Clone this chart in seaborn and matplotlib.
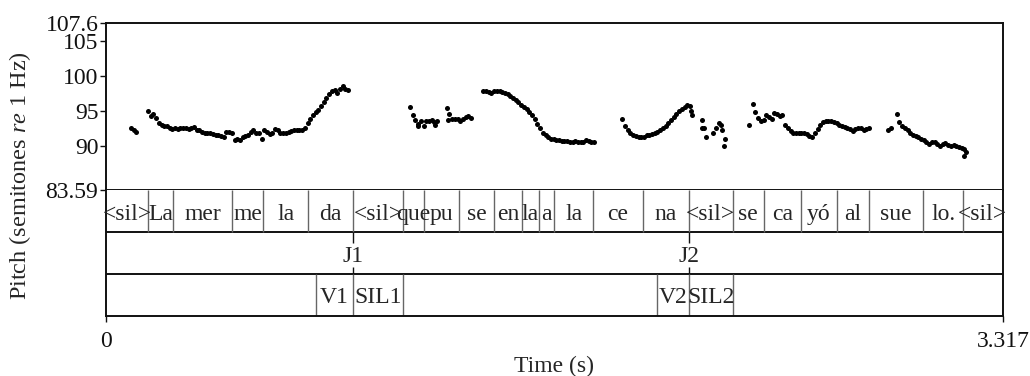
import numpy as np
import pandas as pd
import matplotlib
matplotlib.use("Agg")
import matplotlib.pyplot as plt
import seaborn as sns

# ---- pitch track: voiced stretches, frames every 10 ms (semitones re 1 Hz) ----
hop = 0.01

seg_a_start = 0.092
seg_a = [92.5, 92.3, 92.0]

seg_b_start = 0.1553
seg_b = [95.0, 94.3, 94.5, 94.0, 93.3, 93.0, 92.8, 92.8, 92.6, 92.4,
         92.5, 92.4, 92.6, 92.6, 92.5, 92.4, 92.5, 92.7, 92.3, 92.2,
         92.0, 91.9, 91.8, 91.8, 91.7, 91.6, 91.5, 91.4, 91.3, 92.0,
         92.0, 91.9, 90.8, 90.9, 90.8, 91.2, 91.4, 91.6, 92.0, 92.3,
         91.9, 91.8, 91.0, 92.2, 92.0, 91.7, 91.8, 92.4, 92.2, 91.8,
         91.8, 91.9, 92.0, 92.1, 92.2, 92.2, 92.2, 92.3, 92.6, 93.2,
         93.8, 94.4, 94.8, 95.2, 95.7, 96.3, 96.8, 97.4, 97.8, 98.0,
         97.5, 98.2, 98.6, 98.2, 98.0]

seg_c1_start = 1.1242
seg_c1 = [95.6, 94.4, 93.7, 93.1, 93.6, 92.8, 93.5, 93.6, 93.7, 93.4, 93.6]

seg_c2_start = 1.2599
seg_c2 = [95.4, 94.6, 93.9, 93.8, 93.9, 93.6, 93.9, 94.1, 94.2, 94.0]

seg_d_start = 1.3953
seg_d = [97.9, 97.8, 97.7, 97.6, 97.8, 97.9, 97.8, 97.7, 97.6, 97.4,
         97.1, 96.9, 96.6, 96.3, 95.9, 95.6, 95.3, 94.8, 94.4, 93.8,
         93.1, 92.5, 91.9, 91.5, 91.2, 91.0, 90.9, 90.8, 90.8, 90.7,
         90.7, 90.7, 90.6, 90.6, 90.7, 90.5, 90.5, 90.6, 90.8, 90.7,
         90.6, 90.5]

seg_e_start = 1.9093
seg_e = [93.9, 92.9, 92.3, 91.9, 91.6, 91.4, 91.3, 91.2, 91.2, 91.5,
         91.5, 91.7, 91.8, 92.0, 92.3, 92.6, 92.9, 93.3, 93.7, 94.1,
         94.5, 95.0, 95.3, 95.6, 95.9, 95.7]

seg_g_start = 2.3914
seg_g = [96.0, 94.9, 94.0, 93.5, 93.7, 94.4, 94.1, 93.9, 94.7, 94.5,
         94.2, 94.4, 93.0, 92.5, 92.1, 91.9, 91.8, 91.9, 91.9, 91.8,
         91.7, 91.4, 91.3, 91.9, 92.4, 93.0, 93.4, 93.6, 93.6, 93.5,
         93.4, 93.2, 93.0, 92.8, 92.7, 92.5, 92.4, 92.1, 92.4, 92.6,
         92.6, 92.2, 92.4, 92.6]

seg_h_start = 2.924
seg_h = [94.6, 93.4, 92.8, 92.5, 92.2, 91.8, 91.5, 91.4, 91.2, 91.0,
         90.8, 90.5, 90.3, 90.5, 90.6, 90.3, 90.0, 90.2, 90.4, 90.1,
         89.9, 90.1, 90.0, 89.8, 89.7, 89.6]

# isolated / scattered frames
stray_t = [1.1549, 1.2167, 1.2651, 2.1633, 2.1680, 2.2021, 2.2040, 2.2125,
           2.2177, 2.2458, 2.2558, 2.2650, 2.2724, 2.2780, 2.2846, 2.2890,
           2.3789, 2.8929, 2.9018, 3.1710, 3.1784]
stray_f0 = [92.8, 93.0, 93.7, 95.0, 94.4, 92.6, 93.7, 92.6,
            91.3, 91.8, 92.5, 93.2, 93.0, 92.3, 90.0, 90.9,
            93.0, 92.2, 92.5, 88.5, 89.1]

# ---- annotation tiers ----
syllables = ["<sil>", "La", "mer", "me", "la", "da", "<sil>", "que", "pu", "se",
             "en", "la", "a", "la", "ce", "na", "<sil>", "se", "ca", "yó",
             "al", "sue", "lo.", "<sil>"]
syll_bounds = [0, 0.1564, 0.2489, 0.4671, 0.5817, 0.7481, 0.9145, 1.0994,
               1.1760, 1.3065, 1.4340, 1.5373, 1.5994, 1.6578, 1.8002, 1.9847,
               2.1544, 2.3172, 2.4333, 2.5709, 2.7021, 2.8223, 3.0224, 3.1681,
               3.317]

junct_labels = ["J1", "J2"]
junct_times = [0.9145, 2.1544]

phase_labels = ["", "V1", "SIL1", "", "V2", "SIL2", ""]
phase_bounds = [0, 0.7766, 0.9145, 1.0994, 2.0387, 2.1544, 2.3172, 3.317]

t_end = 3.317
f0_min, f0_max = 83.59, 107.6
f0_ticks = [83.59, 90, 95, 100, 105, 107.6]
f0_ticklabels = ["83.59", "90", "95", "100", "105", "107.6"]

# ---- assemble frames ----
parts = []
for start, vals in [(seg_a_start, seg_a), (seg_b_start, seg_b),
                    (seg_c1_start, seg_c1), (seg_c2_start, seg_c2),
                    (seg_d_start, seg_d), (seg_e_start, seg_e),
                    (seg_g_start, seg_g), (seg_h_start, seg_h)]:
    parts.append(pd.DataFrame({"time": start + hop * np.arange(len(vals)),
                               "f0": vals}))
parts.append(pd.DataFrame({"time": stray_t, "f0": stray_f0}))
pitch = pd.concat(parts, ignore_index=True)

# ---- style ----
sns.set_style("white")
plt.rcParams["font.family"] = ["Liberation Serif", "DejaVu Serif"]
plt.rcParams["mathtext.fontset"] = "custom"
plt.rcParams["mathtext.rm"] = "Liberation Serif"
plt.rcParams["mathtext.it"] = "Liberation Serif:italic"
FS = 17
frame_c = "#111111"
frame_lw = 1.4

fig = plt.figure(figsize=(10.3, 3.76), dpi=100)
ax_p = fig.add_axes([0.1029, 0.4934, 0.8709, 0.4454])
ax_t = fig.add_axes([0.1029, 0.1596, 0.8709, 0.3338])

# pitch panel
sns.scatterplot(data=pitch, x="time", y="f0", ax=ax_p, color="black",
                s=13, linewidth=0, legend=False)
ax_p.set_xlim(0, t_end)
ax_p.set_ylim(f0_min, f0_max)
ax_p.set_xticks([])
ax_p.set_yticks(f0_ticks)
ax_p.set_yticklabels(f0_ticklabels, fontsize=FS)
ax_p.tick_params(axis="y", direction="out", length=4.5, width=1.0,
                 pad=1, colors=frame_c, left=True)
ax_p.set_xlabel("")
ax_p.set_ylabel("")
for side in ["left", "right", "top", "bottom"]:
    ax_p.spines[side].set_visible(True)
    ax_p.spines[side].set_color(frame_c)
    ax_p.spines[side].set_linewidth(frame_lw)

# tier panel (tier 1 on top, y in [2,3]; tier 2 in [1,2]; tier 3 in [0,1])
ax_t.set_xlim(0, t_end)
ax_t.set_ylim(0, 3)
ax_t.set_yticks([])
ax_t.set_xticks([0, t_end])
ax_t.set_xticklabels(["0", "3.317"], fontsize=FS)
ax_t.tick_params(axis="x", direction="out", length=4.5, width=1.0,
                 pad=6, colors=frame_c, bottom=True)
for side in ["left", "right", "bottom"]:
    ax_t.spines[side].set_color(frame_c)
    ax_t.spines[side].set_linewidth(frame_lw)
ax_t.spines["top"].set_visible(False)
for yb in [1, 2]:
    ax_t.axhline(yb, color=frame_c, lw=frame_lw)

bound_c = "#666666"
# syllable tier
for b in syll_bounds[1:-1]:
    ax_t.vlines(b, 2, 3, color=bound_c, lw=1.0)
for lab, a, b in zip(syllables, syll_bounds[:-1], syll_bounds[1:]):
    ax_t.text((a + b) / 2, 2.30, lab, ha="center", va="baseline", fontsize=FS)

# junction point tier
for lab, t in zip(junct_labels, junct_times):
    ax_t.vlines(t, 1.75, 2, color=frame_c, lw=1.0)
    ax_t.vlines(t, 1, 1.17, color=frame_c, lw=1.0)
    ax_t.text(t, 1.30, lab, ha="center", va="baseline", fontsize=FS)

# phase tier
for b in phase_bounds[1:-1]:
    ax_t.vlines(b, 0, 1, color=bound_c, lw=1.0)
for lab, a, b in zip(phase_labels, phase_bounds[:-1], phase_bounds[1:]):
    if lab:
        ax_t.text((a + b) / 2, 0.30, lab, ha="center", va="baseline", fontsize=FS)

fig.text(0.5383, 1 - 371.7 / 376, "Time (s)", ha="center", va="baseline",
         fontsize=FS)
fig.text(20 / 1030, 1 - 176 / 376, r"Pitch (semitones $\it{re}$ 1 Hz)",
         rotation=90, ha="center", va="center", fontsize=17.5)

fig.savefig("out.png", dpi=100)
